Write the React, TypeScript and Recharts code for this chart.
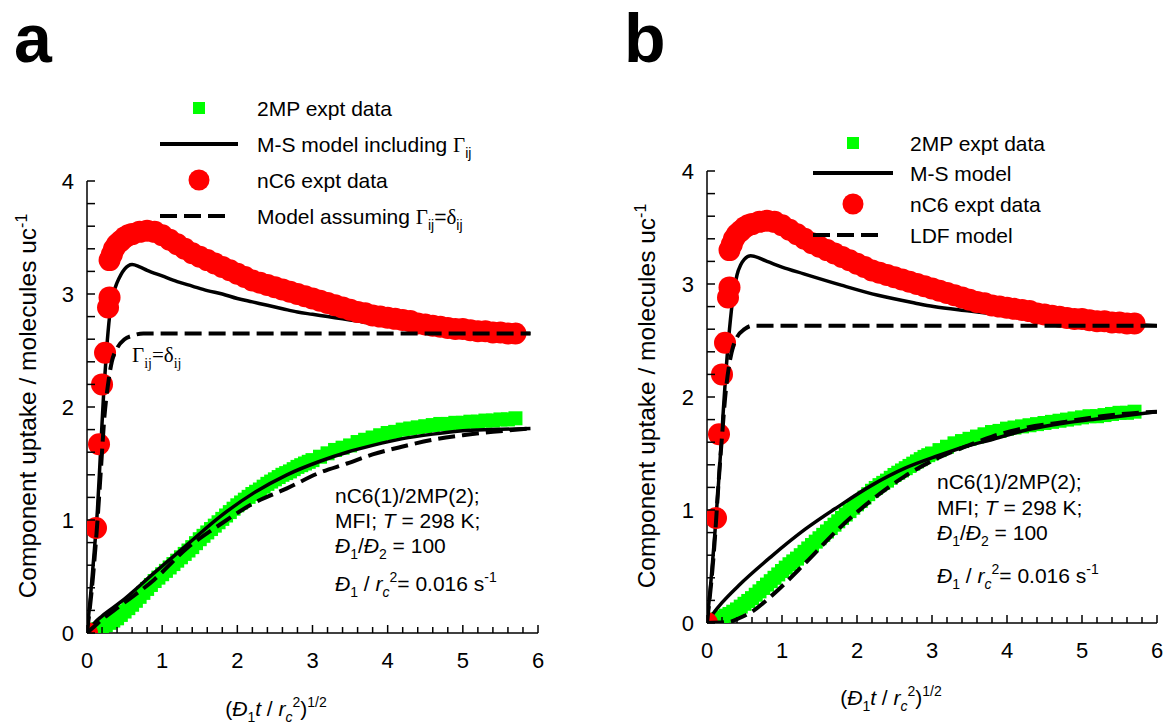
import React from "react";
import { ComposedChart, Line, Scatter, XAxis, YAxis } from "recharts";

type Pt = [number, number];

const xTicks = [
  0, 0.2, 0.4, 0.6, 0.8, 1, 1.2, 1.4, 1.6, 1.8, 2, 2.2, 2.4, 2.6, 2.8, 3, 3.2, 3.4, 3.6, 3.8, 4,
  4.2, 4.4, 4.6, 4.8, 5, 5.2, 5.4, 5.6, 5.8, 6,
];
const yTicks = [
  0, 0.2, 0.4, 0.6, 0.8, 1, 1.2, 1.4, 1.6, 1.8, 2, 2.2, 2.4, 2.6, 2.8, 3, 3.2, 3.4, 3.6, 3.8, 4,
];

// nC6 experimental uptake (same run shown in both panels)
const nC6Expt: Pt[] = [
  [0, 0], [0.12, 0.93], [0.16, 1.67], [0.2, 2.2], [0.24, 2.48], [0.28, 2.88], [0.3, 2.97],
  [0.3, 3.3], [0.33, 3.35], [0.36, 3.4], [0.4, 3.44], [0.45, 3.47], [0.5, 3.5], [0.55, 3.52],
  [0.6, 3.53], [0.7, 3.55], [0.8, 3.56], [0.9, 3.55], [1.0, 3.52], [1.1, 3.48], [1.2, 3.44],
  [1.3, 3.4], [1.4, 3.36], [1.5, 3.33], [1.6, 3.3], [1.7, 3.27], [1.8, 3.24], [1.9, 3.21],
  [2.0, 3.18], [2.1, 3.15], [2.2, 3.12], [2.3, 3.1], [2.4, 3.08], [2.5, 3.06], [2.6, 3.04],
  [2.7, 3.02], [2.8, 3.0], [2.9, 2.98], [3.0, 2.96], [3.1, 2.94], [3.2, 2.92], [3.3, 2.9],
  [3.4, 2.88], [3.5, 2.86], [3.6, 2.84], [3.7, 2.83], [3.8, 2.81], [3.9, 2.8], [4.0, 2.79],
  [4.1, 2.78], [4.2, 2.77], [4.3, 2.76], [4.4, 2.74], [4.5, 2.73], [4.6, 2.72], [4.7, 2.71],
  [4.8, 2.7], [4.9, 2.69], [5.0, 2.69], [5.1, 2.68], [5.2, 2.67], [5.3, 2.67], [5.4, 2.66],
  [5.5, 2.66], [5.6, 2.65], [5.7, 2.65],
];

// 2MP experimental uptake, as read in panel a and panel b
const mp2ExptA: Pt[] = [
  [0.05, 0.01], [0.1, 0.02], [0.15, 0.035], [0.2, 0.05], [0.25, 0.07], [0.3, 0.09], [0.35, 0.11],
  [0.4, 0.13], [0.45, 0.16], [0.5, 0.19], [0.55, 0.22], [0.6, 0.25], [0.65, 0.285], [0.7, 0.32],
  [0.75, 0.355], [0.8, 0.39], [0.85, 0.425], [0.9, 0.46], [0.95, 0.49], [1.0, 0.52],
  [1.05, 0.55], [1.1, 0.58], [1.15, 0.61], [1.2, 0.64], [1.25, 0.67], [1.3, 0.7], [1.35, 0.73],
  [1.4, 0.76], [1.45, 0.795], [1.5, 0.83], [1.55, 0.86], [1.6, 0.89], [1.65, 0.92], [1.7, 0.95],
  [1.75, 0.98], [1.8, 1.01], [1.85, 1.04], [1.9, 1.07], [1.95, 1.1], [2.0, 1.13], [2.05, 1.155],
  [2.1, 1.18], [2.15, 1.205], [2.2, 1.23], [2.25, 1.25], [2.3, 1.27], [2.35, 1.295], [2.4, 1.32],
  [2.45, 1.34], [2.5, 1.36], [2.55, 1.38], [2.6, 1.4], [2.65, 1.415], [2.7, 1.43], [2.75, 1.45],
  [2.8, 1.47], [2.85, 1.485], [2.9, 1.5], [2.95, 1.515], [3.0, 1.53], [3.1, 1.56], [3.2, 1.59],
  [3.3, 1.62], [3.4, 1.64], [3.5, 1.66], [3.6, 1.69], [3.7, 1.71], [3.8, 1.73], [3.9, 1.75],
  [4.0, 1.77], [4.1, 1.78], [4.2, 1.8], [4.3, 1.81], [4.4, 1.82], [4.5, 1.83], [4.6, 1.84],
  [4.7, 1.85], [4.8, 1.85], [4.9, 1.86], [5.0, 1.86], [5.1, 1.87], [5.2, 1.87], [5.3, 1.88],
  [5.4, 1.88], [5.5, 1.89], [5.6, 1.89], [5.7, 1.9],
];
const mp2ExptB: Pt[] = [
  [0.05, 0.01], [0.1, 0.02], [0.15, 0.035], [0.2, 0.05], [0.25, 0.065], [0.3, 0.08], [0.35, 0.1],
  [0.4, 0.12], [0.45, 0.145], [0.5, 0.17], [0.55, 0.195], [0.6, 0.22], [0.65, 0.25], [0.7, 0.28],
  [0.75, 0.31], [0.8, 0.34], [0.85, 0.37], [0.9, 0.4], [0.95, 0.43], [1.0, 0.46], [1.05, 0.49],
  [1.1, 0.52], [1.15, 0.545], [1.2, 0.57], [1.25, 0.6], [1.3, 0.63], [1.35, 0.66], [1.4, 0.69],
  [1.45, 0.72], [1.5, 0.75], [1.55, 0.78], [1.6, 0.81], [1.65, 0.84], [1.7, 0.87], [1.75, 0.9],
  [1.8, 0.93], [1.85, 0.96], [1.9, 0.99], [1.95, 1.02], [2.0, 1.05], [2.05, 1.08], [2.1, 1.11],
  [2.15, 1.14], [2.2, 1.17], [2.25, 1.195], [2.3, 1.22], [2.35, 1.24], [2.4, 1.26], [2.45, 1.285],
  [2.5, 1.31], [2.55, 1.33], [2.6, 1.35], [2.65, 1.37], [2.7, 1.39], [2.75, 1.41], [2.8, 1.43],
  [2.85, 1.45], [2.9, 1.47], [2.95, 1.485], [3.0, 1.5], [3.1, 1.53], [3.2, 1.56], [3.3, 1.59],
  [3.4, 1.61], [3.5, 1.63], [3.6, 1.65], [3.7, 1.67], [3.8, 1.69], [3.9, 1.7], [4.0, 1.72],
  [4.1, 1.73], [4.2, 1.74], [4.3, 1.75], [4.4, 1.76], [4.5, 1.77], [4.6, 1.78], [4.7, 1.79],
  [4.8, 1.8], [4.9, 1.81], [5.0, 1.82], [5.1, 1.83], [5.2, 1.83], [5.3, 1.84], [5.4, 1.85],
  [5.5, 1.86], [5.6, 1.86], [5.7, 1.87],
];

// panel a: M-S model including thermodynamic coupling
const msNC6A: Pt[] = [
  [0, 0], [0.05, 0.35], [0.1, 0.75], [0.14, 1.1], [0.18, 1.6], [0.22, 2.1], [0.26, 2.5],
  [0.3, 2.8], [0.35, 3.0], [0.4, 3.1], [0.45, 3.17], [0.5, 3.22], [0.55, 3.25], [0.6, 3.26],
  [0.7, 3.24], [0.8, 3.21], [1.0, 3.16], [1.2, 3.11], [1.4, 3.07], [1.6, 3.03], [1.8, 3.0],
  [2.0, 2.96], [2.2, 2.93], [2.4, 2.9], [2.6, 2.87], [2.8, 2.84], [3.0, 2.82], [3.2, 2.8],
  [3.4, 2.78], [3.6, 2.76], [3.8, 2.74], [4.0, 2.73], [4.5, 2.7], [5.0, 2.68], [5.5, 2.66],
  [5.9, 2.65],
];
const msMP2A: Pt[] = [
  [0, 0], [0.1, 0.09], [0.2, 0.15], [0.44, 0.27], [0.89, 0.53], [1.33, 0.78], [1.77, 1.03],
  [2.22, 1.24], [2.66, 1.4], [3.1, 1.52], [3.46, 1.6], [3.8, 1.66], [4.2, 1.72], [4.6, 1.76],
  [5.0, 1.79], [5.4, 1.8], [5.9, 1.81],
];
// panel a: model assuming Gamma_ij = delta_ij
const idealNC6A: Pt[] = [
  [0, 0], [0.08, 0.5], [0.14, 1.0], [0.19, 1.5], [0.23, 1.9], [0.28, 2.2], [0.33, 2.4],
  [0.4, 2.52], [0.5, 2.6], [0.6, 2.63], [0.75, 2.65], [5.9, 2.65],
];
const idealMP2A: Pt[] = [
  [0, 0], [0.1, 0.06], [0.2, 0.12], [0.44, 0.24], [0.89, 0.47], [1.33, 0.75], [1.77, 0.96],
  [2.22, 1.15], [2.66, 1.28], [3.1, 1.42], [3.46, 1.5], [3.8, 1.58], [4.2, 1.65], [4.6, 1.71],
  [5.0, 1.75], [5.4, 1.78], [5.9, 1.81],
];

// panel b: M-S model and LDF model
const msNC6B: Pt[] = [
  [0, 0], [0.05, 0.35], [0.1, 0.75], [0.15, 1.2], [0.2, 1.7], [0.25, 2.2], [0.3, 2.6],
  [0.35, 2.9], [0.4, 3.08], [0.45, 3.17], [0.5, 3.22], [0.58, 3.25], [0.8, 3.2], [1.0, 3.15],
  [1.29, 3.09], [1.79, 2.99], [2.28, 2.9], [2.78, 2.83], [3.02, 2.8], [3.5, 2.76], [4.0, 2.72],
  [4.5, 2.69], [5.0, 2.67], [5.5, 2.65], [6.0, 2.63],
];
const msMP2B: Pt[] = [
  [0, 0], [0.1, 0.1], [0.2, 0.18], [0.42, 0.33], [0.86, 0.59], [1.31, 0.83], [1.75, 1.03],
  [2.2, 1.22], [2.64, 1.37], [3.08, 1.48], [3.44, 1.56], [3.78, 1.62], [4.27, 1.71],
  [4.77, 1.77], [5.26, 1.81], [6.0, 1.87],
];
const ldfNC6B: Pt[] = [
  [0, 0], [0.1, 0.7], [0.15, 1.2], [0.2, 1.65], [0.25, 2.05], [0.3, 2.3], [0.35, 2.45],
  [0.4, 2.53], [0.5, 2.6], [0.6, 2.63], [6.0, 2.63],
];
const ldfMP2B: Pt[] = [
  [0, 0], [0.3, 0.01], [0.42, 0.04], [0.6, 0.1], [0.86, 0.24], [1.31, 0.53], [1.75, 0.83],
  [2.2, 1.09], [2.64, 1.3], [3.08, 1.46], [3.44, 1.56], [3.8, 1.65], [4.27, 1.73],
  [4.77, 1.78], [5.26, 1.83], [6.0, 1.87],
];

const FONT = "'Liberation Sans', Arial, sans-serif";
const SERIF = "'Liberation Serif', 'Times New Roman', serif";
const GREEN = "#00ff00";
const RED = "#ff0000";
const DASH = "17 7";

const pts = (a: Pt[]) => a.map(([x, y]) => ({ x, y }));
const isMajor = (v: number) => Math.abs(v - Math.round(v)) < 1e-6;

function XTick(props: any) {
  const { x, y, payload } = props;
  const v = payload.value as number;
  const major = isMajor(v);
  return (
    <g>
      <line x1={x} x2={x} y1={y} y2={y - (major ? 8 : 6)} stroke="#000" strokeWidth={1.5} />
      {major && (
        <text x={x} y={y + 35} textAnchor="middle" fontSize={22} fontFamily={FONT} fill="#000">
          {Math.round(v)}
        </text>
      )}
    </g>
  );
}

function YTick(props: any) {
  const { x, y, payload } = props;
  const v = payload.value as number;
  const major = isMajor(v);
  return (
    <g>
      <line x1={x} x2={x + 8} y1={y} y2={y} stroke="#000" strokeWidth={1.5} />
      {major && (
        <text x={x - 13} y={y + 8} textAnchor="end" fontSize={22} fontFamily={FONT} fill="#000">
          {Math.round(v)}
        </text>
      )}
    </g>
  );
}

const square = (p: any) => (
  <rect x={p.cx - 7} y={p.cy - 7} width={14} height={14} fill={GREEN} />
);
const dot = (p: any) => <circle cx={p.cx} cy={p.cy} r={11} fill={RED} />;

type PanelProps = {
  left: number;
  width: number;
  margin: { top: number; right: number; bottom: number; left: number };
  green: Pt[];
  solidMP2: Pt[];
  solidNC6: Pt[];
  dashMP2: Pt[];
  dashNC6: Pt[];
};

function Panel(p: PanelProps) {
  const line = (d: Pt[], dashed: boolean, z: number) => (
    <Line
      data={pts(d)}
      dataKey="y"
      type="monotone"
      stroke="#000"
      strokeWidth={dashed ? 4 : 3.5}
      strokeDasharray={dashed ? DASH : undefined}
      dot={false}
      activeDot={false}
      isAnimationActive={false}
      zIndex={z}
    />
  );
  return (
    <div style={{ position: "absolute", left: p.left, top: 0 }}>
      <ComposedChart width={p.width} height={727} margin={p.margin}>
        <XAxis
          type="number"
          dataKey="x"
          domain={[0, 6]}
          ticks={xTicks}
          interval={0}
          height={40}
          tickSize={0}
          tickMargin={0}
          tickLine={false}
          axisLine={{ stroke: "#000", strokeWidth: 1.5 }}
          tick={XTick}
          allowDataOverflow
        />
        <YAxis
          type="number"
          dataKey="y"
          domain={[0, 4]}
          ticks={yTicks}
          interval={0}
          width={40}
          tickSize={0}
          tickMargin={0}
          tickLine={false}
          axisLine={{ stroke: "#000", strokeWidth: 1.5 }}
          tick={YTick}
          allowDataOverflow
        />
        <Scatter data={pts(p.green)} dataKey="y" shape={square} isAnimationActive={false} zIndex={600} />
        {line(p.solidMP2, false, 610)}
        {line(p.solidNC6, false, 611)}
        <Scatter data={pts(nC6Expt)} dataKey="y" shape={dot} isAnimationActive={false} zIndex={620} />
        {line(p.dashMP2, true, 630)}
        {line(p.dashNC6, true, 631)}
      </ComposedChart>
    </div>
  );
}

// rich text: segments with optional subscript / superscript, italic or serif
type Seg = { t: string; m?: "sub" | "sup"; i?: boolean; s?: boolean };
function rich(segs: Seg[], small = 14) {
  let cur = 0;
  return segs.map((g, k) => {
    const off = g.m === "sub" ? 6 : g.m === "sup" ? -9 : 0;
    const dy = off - cur;
    cur = off;
    return (
      <tspan
        key={k}
        dy={dy !== 0 ? dy : undefined}
        fontSize={g.m ? small : undefined}
        fontStyle={g.i ? "italic" : undefined}
        fontFamily={g.s ? SERIF : undefined}
      >
        {g.t}
      </tspan>
    );
  });
}

function LegendRows(props: {
  sx: number;
  tx: number;
  rows: number[];
  labels: Seg[][];
  lineStart: number;
  lineEnd: number;
  dashEnd: number;
}) {
  const { sx, tx, rows, labels, lineStart, lineEnd, dashEnd } = props;
  return (
    <g fontFamily={FONT} fontSize={21} fill="#000">
      <rect x={sx - 6} y={rows[0] - 6} width={12} height={12} fill={GREEN} />
      <line x1={lineStart} x2={lineEnd} y1={rows[1]} y2={rows[1]} stroke="#000" strokeWidth={4} />
      <circle cx={sx} cy={rows[2]} r={10.5} fill={RED} />
      <line x1={lineStart} x2={dashEnd} y1={rows[3]} y2={rows[3]} stroke="#000" strokeWidth={4} strokeDasharray={DASH} />
      {labels.map((l, i) => (
        <text key={i} x={tx} y={rows[i] + 7.5}>
          {rich(l)}
        </text>
      ))}
    </g>
  );
}

const noteLines: Seg[][] = [
  [{ t: "nC6(1)/2MP(2);" }],
  [{ t: "MFI; " }, { t: "T", i: true }, { t: " = 298 K;" }],
  [{ t: "Đ", i: true }, { t: "1", m: "sub" }, { t: "/" }, { t: "Đ", i: true }, { t: "2", m: "sub" }, { t: " = 100" }],
  [
    { t: "Đ", i: true }, { t: "1", m: "sub" }, { t: " / " }, { t: "r", i: true },
    { t: "c", m: "sub", i: true }, { t: "2", m: "sup" }, { t: "= 0.016 s" }, { t: "-1", m: "sup" },
  ],
];
const yTitle: Seg[] = [{ t: "Component uptake / molecules uc" }, { t: "-1", m: "sup" }];
const xTitle: Seg[] = [
  { t: "(" }, { t: "Đ", i: true }, { t: "1", m: "sub" }, { t: "t", i: true }, { t: " / " },
  { t: "r", i: true }, { t: "c", m: "sub", i: true }, { t: "2", m: "sup" }, { t: ")" },
  { t: "1/2", m: "sup" },
];

function Notes({ x, ys }: { x: number; ys: number[] }) {
  return (
    <g fontFamily={FONT} fontSize={21} fill="#000">
      {noteLines.map((l, i) => (
        <text key={i} x={x} y={ys[i]}>
          {rich(l)}
        </text>
      ))}
    </g>
  );
}

function Titles({ yx, yy, xx, xy }: { yx: number; yy: number; xx: number; xy: number }) {
  return (
    <g fontFamily={FONT} fill="#000">
      <text transform={`translate(${yx},${yy}) rotate(-90)`} textAnchor="middle" fontSize={24.5}>
        {rich(yTitle, 16)}
      </text>
      <text x={xx} y={xy} textAnchor="middle" fontSize={21}>
        {rich(xTitle)}
      </text>
    </g>
  );
}

export default function App() {
  return (
    <div style={{ position: "absolute", left: 0, top: 0, width: 1163, height: 727, background: "#fff", overflow: "hidden" }}>
      <Panel
        left={0}
        width={580}
        margin={{ top: 181, right: 42, bottom: 54, left: 47 }}
        green={mp2ExptA}
        solidMP2={msMP2A}
        solidNC6={msNC6A}
        dashMP2={idealMP2A}
        dashNC6={idealNC6A}
      />
      <Panel
        left={580}
        width={583}
        margin={{ top: 171, right: 6, bottom: 64, left: 87 }}
        green={mp2ExptB}
        solidMP2={msMP2B}
        solidNC6={msNC6B}
        dashMP2={ldfMP2B}
        dashNC6={ldfNC6B}
      />
      <svg width={1163} height={727} style={{ position: "absolute", left: 0, top: 0, pointerEvents: "none" }}>
        <text x={14} y={62} fontFamily={FONT} fontWeight="bold" fontSize={68}>a</text>
        <text x={624} y={62} fontFamily={FONT} fontWeight="bold" fontSize={68}>b</text>
        <LegendRows
          sx={199}
          tx={257}
          lineStart={160}
          lineEnd={238}
          dashEnd={230}
          rows={[108, 144, 180, 216]}
          labels={[
            [{ t: "2MP expt data" }],
            [{ t: "M-S model including " }, { t: "Γ", s: true }, { t: "ij", m: "sub" }],
            [{ t: "nC6 expt data" }],
            [
              { t: "Model assuming " }, { t: "Γ", s: true }, { t: "ij", m: "sub" }, { t: "=" },
              { t: "δ", s: true }, { t: "ij", m: "sub" },
            ],
          ]}
        />
        <LegendRows
          sx={853}
          tx={910}
          lineStart={813}
          lineEnd={893}
          dashEnd={883}
          rows={[143, 173, 204, 235]}
          labels={[[{ t: "2MP expt data" }], [{ t: "M-S model" }], [{ t: "nC6 expt data" }], [{ t: "LDF model" }]]}
        />
        <text x={132} y={362} fontFamily={SERIF} fontSize={21}>
          {rich([{ t: "Γ" }, { t: "ij", m: "sub" }, { t: "=" }, { t: "δ" }, { t: "ij", m: "sub" }])}
        </text>
        <Notes x={335} ys={[503, 528, 553, 591]} />
        <Notes x={937} ys={[489, 515, 540, 583]} />
        <Titles yx={36} yy={406} xx={276} xy={716} />
        <Titles yx={655} yy={396} xx={891} xy={705} />
      </svg>
    </div>
  );
}
